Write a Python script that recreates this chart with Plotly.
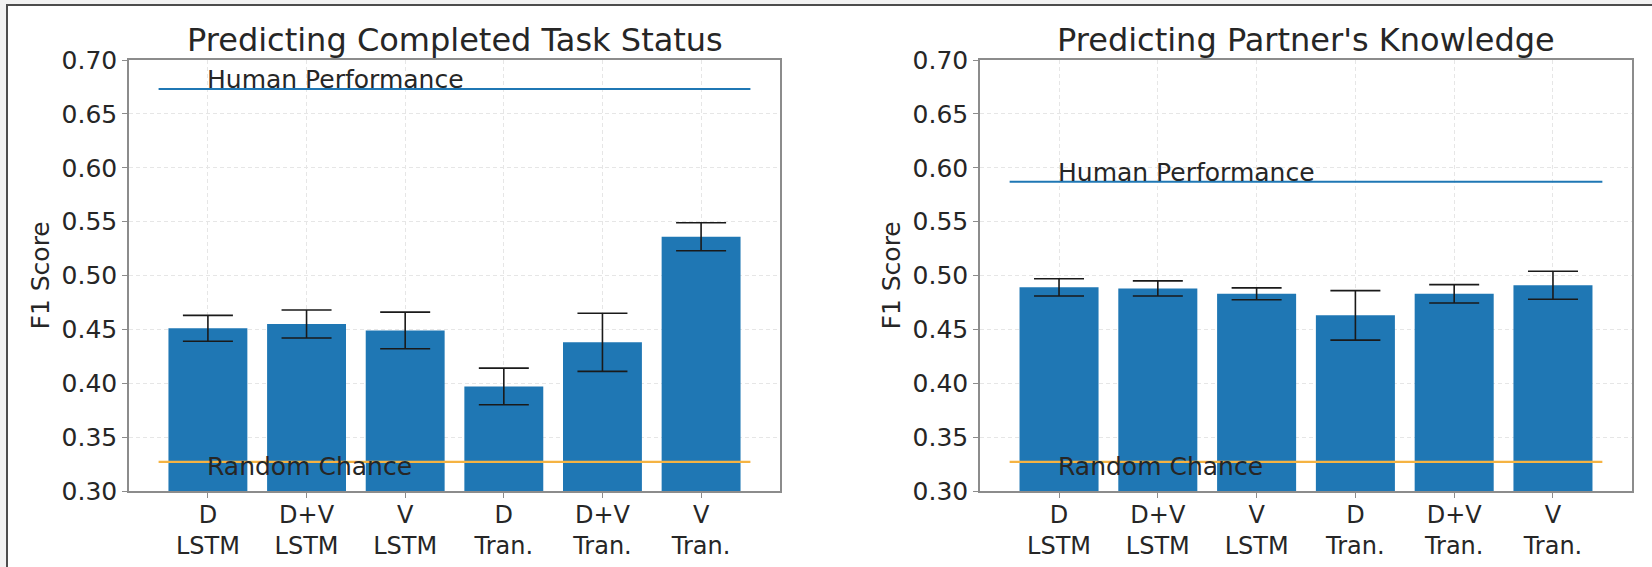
import plotly.graph_objects as go

# ---- data ----
categories = ["D<br>LSTM", "D+V<br>LSTM", "V<br>LSTM", "D<br>Tran.", "D+V<br>Tran.", "V<br>Tran."]
task_f1 = [0.451, 0.455, 0.449, 0.397, 0.438, 0.536]
task_err = [0.012, 0.013, 0.017, 0.017, 0.027, 0.013]
know_f1 = [0.489, 0.488, 0.483, 0.463, 0.483, 0.491]
know_err = [0.008, 0.007, 0.0055, 0.023, 0.0085, 0.013]
titles = ["Predicting Completed Task Status", "Predicting Partner's Knowledge"]
human_perf = [0.673, 0.587]
random_chance = [0.327, 0.327]
y_ticks = [0.30, 0.35, 0.40, 0.45, 0.50, 0.55, 0.60, 0.65, 0.70]

W, H = 1652, 567
FONT = "DejaVu Sans"
TXT = "#262626"

fig = go.Figure()

# plot areas in pixels -> paper
left_px = [(129, 780), (980, 1632)]
top_px, bot_px = 60, 491
ydom = [(H - bot_px) / H, (H - top_px) / H]

series = [(task_f1, task_err), (know_f1, know_err)]
n = len(categories)
for i, (vals, errs) in enumerate(series):
    xa = "x" if i == 0 else "x2"
    ya = "y" if i == 0 else "y2"
    fig.add_trace(go.Bar(
        x=categories, y=vals, width=0.8, xaxis=xa, yaxis=ya,
        marker=dict(color="#1f77b4", line=dict(width=0)),
        error_y=dict(type="data", array=errs, color="#1a1a1a", thickness=1.6, width=25),
        showlegend=False, hoverinfo="skip",
    ))
    fig.add_shape(type="line", xref=xa, yref=ya, x0=-0.5, x1=n - 0.5,
                  y0=human_perf[i], y1=human_perf[i],
                  line=dict(color="#1f77b4", width=2))
    fig.add_shape(type="line", xref=xa, yref=ya, x0=-0.5, x1=n - 0.5,
                  y0=random_chance[i], y1=random_chance[i],
                  line=dict(color="#f5b342", width=2.2))
    fig.add_annotation(xref=xa, yref=ya, x=categories[0], y=human_perf[i],
                       text="Human Performance", showarrow=False,
                       xanchor="left", yanchor="bottom", xshift=-3, yshift=-7,
                       font=dict(family=FONT, size=25, color=TXT))
    fig.add_annotation(xref=xa, yref=ya, x=categories[0], y=random_chance[i],
                       text="Random Chance", showarrow=False,
                       xanchor="left", yanchor="bottom", xshift=-3, yshift=-21,
                       font=dict(family=FONT, size=25, color=TXT))
    x0p, x1p = left_px[i]
    fig.add_annotation(xref="paper", yref="paper", x=(x0p + x1p) / 2 / W, y=ydom[1],
                       text=titles[i], showarrow=False, xanchor="center", yanchor="bottom",
                       yshift=-1, font=dict(family=FONT, size=32, color=TXT))
    fig.add_annotation(xref="paper", yref="paper", x=(x0p - 89) / W, y=(ydom[0] + ydom[1]) / 2,
                       text="F1 Score", showarrow=False, textangle=-90,
                       xanchor="center", yanchor="middle",
                       font=dict(family=FONT, size=25, color=TXT))

axis_common = dict(showline=True, mirror=True, linecolor="#8c8c8c", linewidth=1.5,
                   ticks="outside", ticklen=5, tickcolor="#8c8c8c", tickwidth=1.2,
                   showgrid=True, gridcolor="#e6e6e6", griddash="4px,3px", gridwidth=1,
                   zeroline=False, automargin=False,
                   tickfont=dict(family=FONT, size=25, color=TXT))

for i in range(2):
    x0p, x1p = left_px[i]
    sfx = "" if i == 0 else "2"
    fig.layout["xaxis" + sfx] = dict(axis_common, domain=[x0p / W, x1p / W],
                                     anchor="y" + sfx, range=[-0.8, n - 1 + 0.8],
                                     categoryorder="array", categoryarray=categories,
                                     ticklabelstandoff=-4,
                                     tickfont=dict(family=FONT, size=24, color=TXT))
    fig.layout["yaxis" + sfx] = dict(axis_common, domain=ydom, anchor="x" + sfx,
                                     range=[0.30, 0.70], tickvals=y_ticks,
                                     tickformat=".2f")

fig.add_shape(type="rect", xref="paper", yref="paper", x0=7 / W, x1=1.02,
              y0=-0.02, y1=1 - 5 / H, line=dict(color="#4d4d4d", width=2),
              fillcolor="white", layer="below")

fig.update_layout(width=W, height=H, margin=dict(l=0, r=0, t=0, b=0, autoexpand=False),
                  paper_bgcolor="#f2f2f2", plot_bgcolor="white",
                  bargap=0.2, font=dict(family=FONT, color=TXT))

fig.write_html("out.html", config={"displayModeBar": False},
               post_script="document.body.style.margin='0';document.body.style.overflow='hidden';")
